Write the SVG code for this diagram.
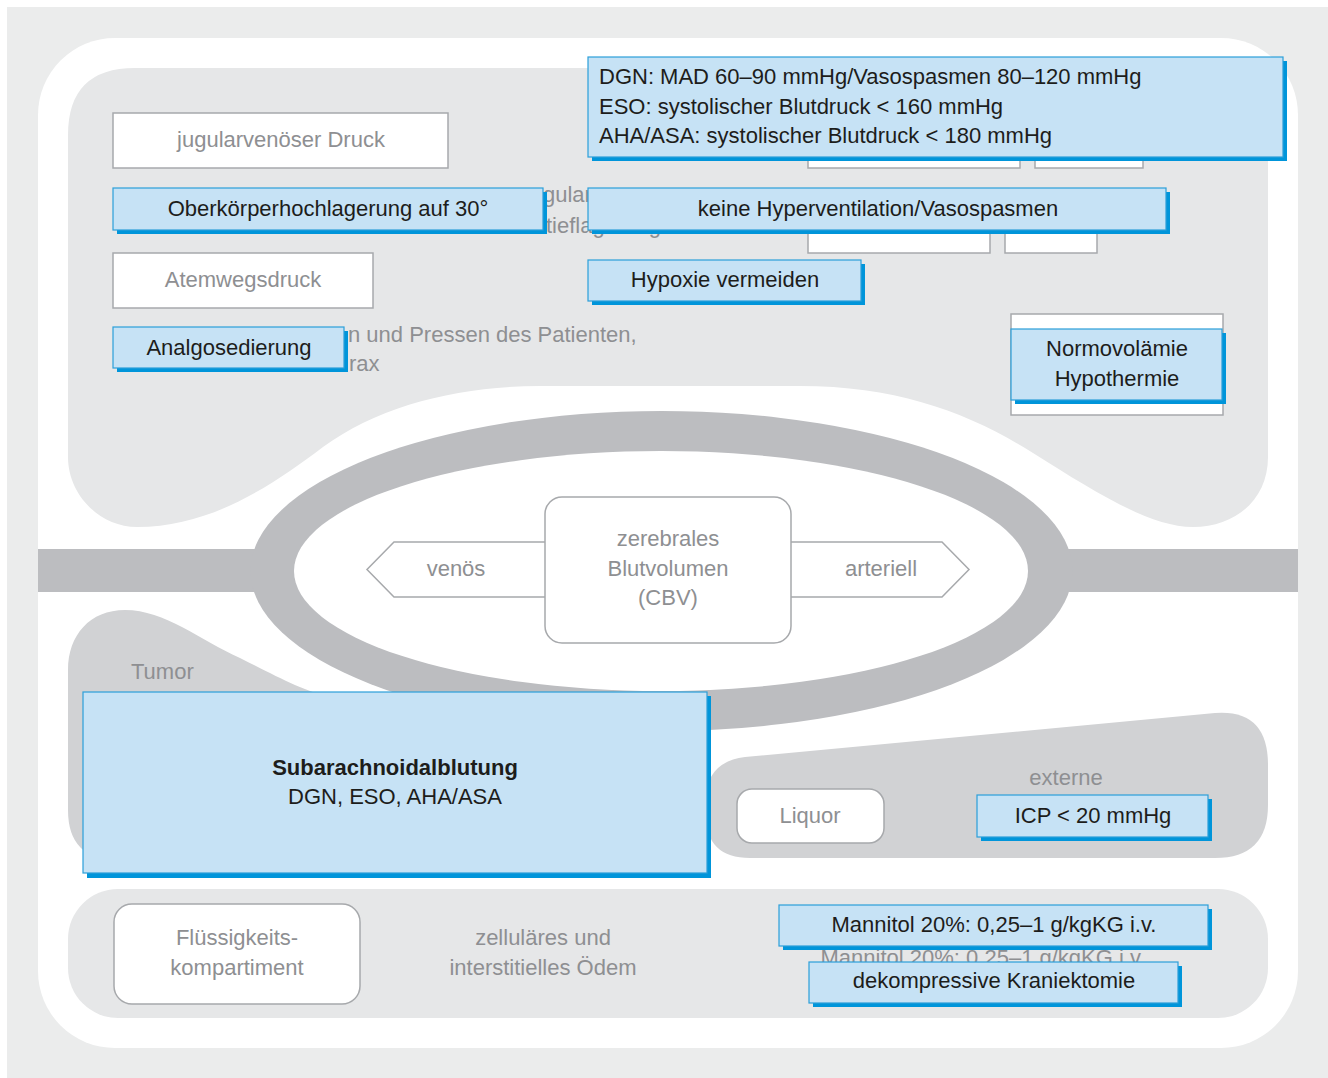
<svg xmlns="http://www.w3.org/2000/svg" width="1328" height="1078" viewBox="0 0 1328 1078">
<defs>
<style>
text{font-family:"Liberation Sans",Arial,sans-serif;font-size:22px}
.g{fill:#8e8f92}
.d{fill:#1d1d1b}
.c{text-anchor:middle}
.b{font-weight:bold}
.bx{fill:#c6e2f5;stroke:#2b9fd9;stroke-width:1.2}
.sh{fill:#0095da}
.wb{fill:#fff;stroke:#a7a9ac;stroke-width:1.5}
.lt{fill:#e6e7e8}
.md{fill:#d1d2d4}
.rg{fill:#bcbdc0}
</style>
</defs>
<rect width="1328" height="1078" fill="#fff"/>
<rect x="7" y="7" width="1321" height="1071" fill="#ebecec"/>
<rect x="38" y="38" width="1260" height="1010" rx="77" fill="#fff"/>
<path id="upper-region" class="lt" d="M68,135 Q68,68 135,68 L1268,68 L1268,457 C1268,500 1235,527 1193,527 C1150,527 1095,492 1033,453 C971,414 900,386 800,386 L540,386 C460,386 380,405 323,447 C270,487 210,527 137,527 C100,527 68,495 68,457 Z"/>
<path id="tumor-region" class="md" d="M68,670 C68,635 90,610 125,610 C165,610 200,640 240,658 C280,678 300,690 340,700 L340,860 L118,860 Q68,860 68,810 Z"/>
<path id="liquor-region" class="md" d="M706,800 Q706,762 745,757 L1215,713 Q1268,709 1268,765 L1268,805 Q1268,858 1215,858 L750,858 Q706,858 706,815 Z"/>
<rect id="lower-region" class="lt" x="68" y="889" width="1200" height="129" rx="50"/>
<g id="connectors">
<rect class="rg" x="38" y="549" width="1260" height="43"/>
<ellipse class="rg" cx="661.5" cy="571" rx="411" ry="160"/>
<ellipse cx="661" cy="571" rx="367" ry="120" fill="#fff"/>
</g>
<g id="background-fragments">
<text class="g" x="543" y="202">gular</text>
<text class="g" x="546" y="233">tieflagerung</text>
<text class="g" x="348" y="342">n und Pressen des Patienten,</text>
<text class="g" x="349" y="371">rax</text>
<rect class="wb" x="808" y="113" width="212" height="55"/>
<rect class="wb" x="1035" y="113" width="108" height="55"/>
<rect class="wb" x="808" y="198" width="182" height="55"/>
<rect class="wb" x="1005" y="198" width="92" height="55"/>
<rect class="wb" x="1011" y="314" width="212" height="101"/>
<text class="g c" x="983" y="965">Mannitol 20%: 0,25–1 g/kgKG i.v.</text>
</g>
<g id="n-jugular">
<rect class="wb" x="113" y="113" width="335" height="55"/>
<text class="g c" x="281" y="147">jugularvenöser Druck</text>
</g>
<g id="n-atemweg">
<rect class="wb" x="113" y="253" width="260" height="55"/>
<text class="g c" x="243" y="287">Atemwegsdruck</text>
</g>
<g id="n-oberkoerper">
<rect class="sh" x="117" y="192" width="430" height="42"/>
<rect class="bx" x="113" y="188" width="430" height="42"/>
<text class="d c" x="328" y="216">Oberkörperhochlagerung auf 30°</text>
</g>
<g id="n-analgo">
<rect class="sh" x="117" y="331" width="231" height="41"/>
<rect class="bx" x="113" y="327" width="231" height="41"/>
<text class="d c" x="229" y="355">Analgosedierung</text>
</g>
<g id="n-dgn">
<rect class="sh" x="592" y="61" width="695" height="100"/>
<rect class="bx" x="588" y="57" width="695" height="100"/>
<text class="d" x="599" y="84">DGN: MAD 60–90 mmHg/Vasospasmen 80–120 mmHg</text>
<text class="d" x="599" y="114">ESO: systolischer Blutdruck &lt; 160 mmHg</text>
<text class="d" x="599" y="143">AHA/ASA: systolischer Blutdruck &lt; 180 mmHg</text>
</g>
<g id="n-hyperventilation">
<rect class="sh" x="592" y="192" width="578" height="42"/>
<rect class="bx" x="588" y="188" width="578" height="42"/>
<text class="d c" x="878" y="216">keine Hyperventilation/Vasospasmen</text>
</g>
<g id="n-hypoxie">
<rect class="sh" x="592" y="264" width="273" height="41"/>
<rect class="bx" x="588" y="260" width="273" height="41"/>
<text class="d c" x="725" y="287">Hypoxie vermeiden</text>
</g>
<g id="n-normovolaemie">
<rect class="sh" x="1015" y="333" width="211" height="71"/>
<rect class="bx" x="1011" y="329" width="211" height="71"/>
<text class="d c" x="1117" y="356">Normovolämie</text>
<text class="d c" x="1117" y="386">Hypothermie</text>
</g>
<g id="n-venoes">
<path class="wb" d="M546,542 L394,542 L367,569.5 L394,597 L546,597"/>
<text class="g c" x="456" y="576">venös</text>
</g>
<g id="n-arteriell">
<path class="wb" d="M791,542 L942,542 L969,569.5 L942,597 L791,597"/>
<text class="g c" x="881" y="576">arteriell</text>
</g>
<g id="n-cbv">
<rect class="wb" x="545" y="497" width="246" height="146" rx="17"/>
<text class="g c" x="668" y="546">zerebrales</text>
<text class="g c" x="668" y="576">Blutvolumen</text>
<text class="g c" x="668" y="605">(CBV)</text>
</g>
<g id="n-tumor">
<text class="g" x="131" y="679">Tumor</text>
</g>
<g id="n-sab">
<rect class="sh" x="87" y="696" width="624" height="182"/>
<rect class="bx" x="83" y="692" width="624" height="181"/>
<text class="d c b" x="395" y="775">Subarachnoidalblutung</text>
<text class="d c" x="395" y="804">DGN, ESO, AHA/ASA</text>
</g>
<g id="n-liquor">
<rect class="wb" x="737" y="789" width="147" height="54" rx="15"/>
<text class="g c" x="810" y="823">Liquor</text>
</g>
<g id="n-externe">
<text class="g c" x="1066" y="785">externe</text>
</g>
<g id="n-icp">
<rect class="sh" x="981" y="799" width="231" height="42"/>
<rect class="bx" x="977" y="795" width="231" height="42"/>
<text class="d c" x="1093" y="823">ICP &lt; 20 mmHg</text>
</g>
<g id="n-fluessigkeit">
<rect class="wb" x="114" y="904" width="246" height="100" rx="18"/>
<text class="g c" x="237" y="945">Flüssigkeits-</text>
<text class="g c" x="237" y="975">kompartiment</text>
</g>
<g id="n-oedem">
<text class="g c" x="543" y="945">zelluläres und</text>
<text class="g c" x="543" y="975">interstitielles Ödem</text>
</g>
<g id="n-mannitol">
<rect class="sh" x="783" y="909" width="429" height="41"/>
<rect class="bx" x="779" y="905" width="429" height="41"/>
<text class="d c" x="994" y="932">Mannitol 20%: 0,25–1 g/kgKG i.v.</text>
</g>
<g id="n-kraniektomie">
<rect class="sh" x="813" y="966" width="369" height="41"/>
<rect class="bx" x="809" y="962" width="369" height="41"/>
<text class="d c" x="994" y="988">dekompressive Kraniektomie</text>
</g>
</svg>
